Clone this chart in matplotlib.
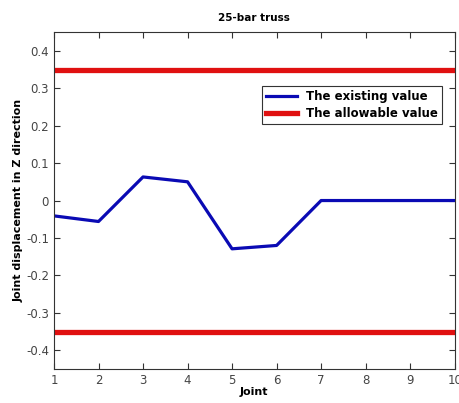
import matplotlib
matplotlib.use('Agg')
import matplotlib.pyplot as plt

joints = [1, 2, 3, 4, 5, 6, 7, 8, 9, 10]
existing = [-0.041, -0.056, 0.063, 0.050, -0.129, -0.120, 0.0, 0.0, 0.0, 0.0]
allowable = 0.35

fig = plt.figure(figsize=(4.59, 4.03), dpi=100)
ax = fig.add_axes([0.1176, 0.0844, 0.873, 0.836])

ax.plot(joints, existing, color='#0a0ab4', lw=2.3, label='The existing value')
ax.plot([joints[0], joints[-1]], [allowable, allowable], color='#e01010', lw=3.8,
        label='The allowable value')
ax.plot([joints[0], joints[-1]], [-allowable, -allowable], color='#e01010', lw=3.8)

ax.set_xlim(1, 10)
ax.set_ylim(-0.45, 0.45)
ax.set_xticks(joints)
ax.set_yticks([-0.4, -0.3, -0.2, -0.1, 0, 0.1, 0.2, 0.3, 0.4])
ax.set_yticklabels(['-0.4', '-0.3', '-0.2', '-0.1', '0', '0.1', '0.2', '0.3', '0.4'])
ax.tick_params(direction='in', top=True, right=True, length=4, width=0.8,
               labelsize=8.5, colors='#333333', labelcolor='#444444')
for s in ax.spines.values():
    s.set_color('#333333')
    s.set_linewidth(0.8)

ax.set_title('25-bar truss', fontsize=7.5, fontweight='bold', pad=8)
ax.set_xlabel('Joint', fontsize=8, fontweight='bold', labelpad=0)
ax.set_ylabel('Joint displacement in Z direction', fontsize=8, fontweight='bold', labelpad=2)

leg = ax.legend(loc='upper right', bbox_to_anchor=(0.984, 0.857), fontsize=8.5,
                fancybox=False, framealpha=1, edgecolor='#333333',
                borderpad=0.35, handlelength=2.6, labelspacing=0.3)
leg.get_frame().set_linewidth(0.8)
for t in leg.get_texts():
    t.set_fontweight('bold')

fig.savefig('out.png', dpi=100)
